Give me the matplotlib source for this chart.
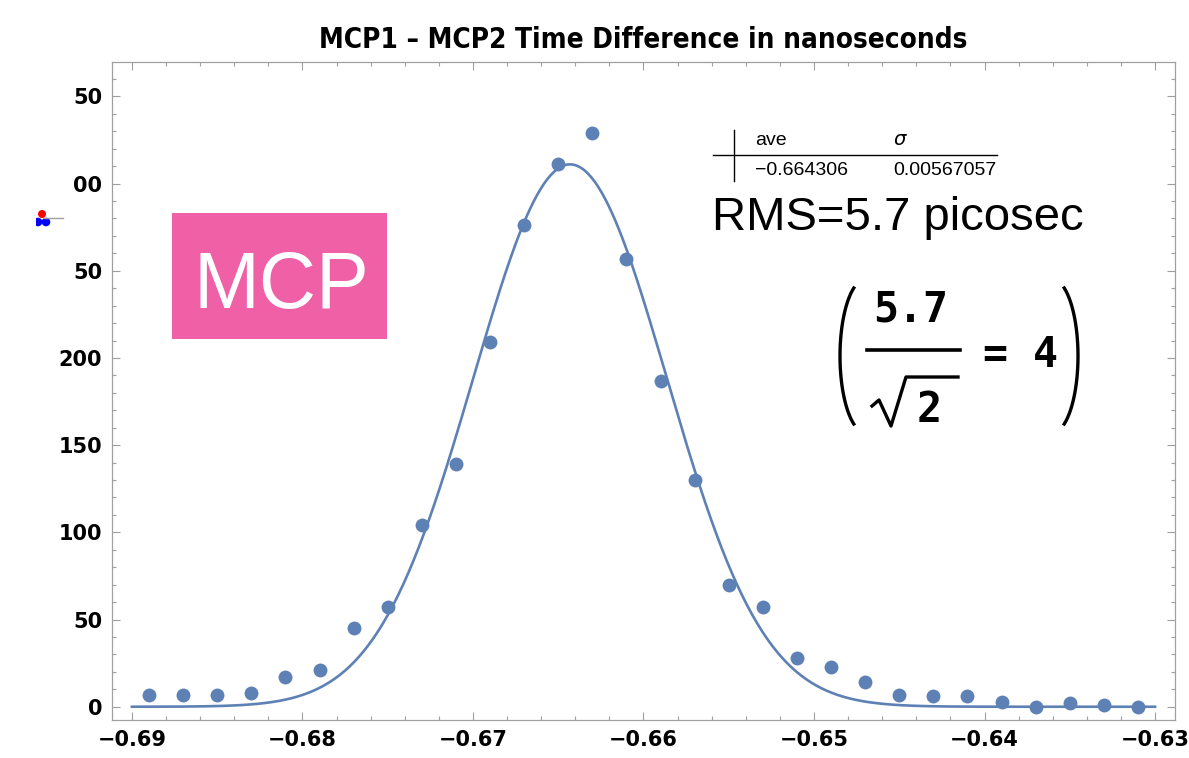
import numpy as np
import matplotlib.pyplot as plt
from matplotlib.lines import Line2D
from matplotlib.patches import Rectangle, Circle

# histogram points (bin centres, counts)
bin_centers = [-0.689, -0.687, -0.685, -0.683, -0.681, -0.679, -0.677, -0.675,
               -0.673, -0.671, -0.669, -0.667, -0.665, -0.663, -0.661, -0.659,
               -0.657, -0.655, -0.653, -0.651, -0.649, -0.647, -0.645, -0.643,
               -0.641, -0.639, -0.637, -0.635, -0.633, -0.631]
counts = [7, 7, 7, 8, 17, 21, 45, 57, 104, 139, 209, 276, 311, 329, 257, 187,
          130, 70, 57, 28, 23, 14, 7, 6, 6, 3, 0, 2, 1, 0]

# gaussian fit parameters (from the table in the chart)
fit_ave = -0.664306
fit_sigma = 0.00567057
fit_amp = 311
fit_range = [-0.69, -0.63]

x_ticks = [-0.69, -0.68, -0.67, -0.66, -0.65, -0.64, -0.63]
x_labels = ['\u22120.69', '\u22120.68', '\u22120.67', '\u22120.66', '\u22120.65', '\u22120.64', '\u22120.63']
y_ticks = [0, 50, 100, 150, 200, 250, 300, 350]
y_labels = ['0', '50', '100', '150', '200', '50', '00', '50']

BLUE = '#5E81B5'
GREY = '#A0A0A0'
W, H = 1189, 758

fig = plt.figure(figsize=(W / 100, H / 100), dpi=100)
ax = fig.add_axes([112 / W, (H - 720) / H, (1175 - 112) / W, (720 - 62) / H])

xs = np.linspace(fit_range[0], fit_range[1], 600)
ax.plot(xs, fit_amp * np.exp(-0.5 * ((xs - fit_ave) / fit_sigma) ** 2),
        color=BLUE, lw=1.9, zorder=2)
ax.plot(bin_centers, counts, 'o', color=BLUE, ms=10, mec='none', zorder=3)

ax.set_xlim(-0.69117, -0.62883)
ax.set_ylim(-7.6, 369.7)
ax.set_xticks(x_ticks)
ax.set_xticklabels(x_labels)
ax.set_xticks(np.arange(-0.69, -0.6299, 0.002), minor=True)
ax.set_yticks(y_ticks)
ax.set_yticklabels(y_labels)
ax.set_yticks(np.arange(0, 370, 10), minor=True)
ax.tick_params(which='both', direction='in', top=True, right=True, color=GREY, width=0.8)
ax.tick_params(which='major', length=5.5, pad=7)
ax.tick_params(which='minor', length=3)
for lab in ax.get_xticklabels() + ax.get_yticklabels():
    lab.set_fontfamily('DejaVu Sans')
    lab.set_fontweight('bold')
    lab.set_fontsize(15)
for s in ax.spines.values():
    s.set_color(GREY)
    s.set_linewidth(0.9)

# overlay in pixel coordinates for the annotations
ov = fig.add_axes([0, 0, 1, 1], zorder=5)
ov.set_xlim(0, W)
ov.set_ylim(H, 0)
ov.axis('off')
ov.patch.set_alpha(0)

ov.text(643, 48, 'MCP1 \u2013 MCP2 Time Difference in nanoseconds', ha='center', va='baseline',
        fontsize=20, fontweight='bold', fontfamily='DejaVu Sans', fontstretch='condensed')

# pink label
ov.add_patch(Rectangle((172, 213), 215, 126, color='#EF60A6', lw=0))
ov.text(193, 308, 'MCP', color='white', fontsize=57, fontfamily='Liberation Sans', va='baseline')

# fit table
ov.add_line(Line2D([713, 997], [155, 155], color='black', lw=1))
ov.add_line(Line2D([734, 734], [130, 181], color='black', lw=1))
tkw = dict(fontsize=14, fontfamily='Liberation Sans', va='baseline')
ov.text(755, 145, 'ave', **tkw)
ov.text(893, 145, r'$\sigma$', fontsize=14, va='baseline')
ov.text(755, 175, '\u2212' + '0.664306', **tkw)
ov.text(893, 175, '0.00567057', **tkw)

ov.text(712, 230, 'RMS=5.7 picosec', fontsize=34, fontfamily='Liberation Sans', va='baseline')

# (5.7 / sqrt(2) = 4)
t = np.radians(np.linspace(-62, 62, 60))
ov.plot(866 - 26 * np.cos(t), 356 + 68 * np.sin(t) / np.sin(np.radians(62)), color='black', lw=2.4)
ov.plot(1052 + 26 * np.cos(t), 356 + 68 * np.sin(t) / np.sin(np.radians(62)), color='black', lw=2.4)
fkw = dict(fontsize=30, fontweight='bold', fontfamily='DejaVu Sans Mono', va='baseline')
ov.text(911, 322, '5.7', ha='center', **fkw)
ov.add_line(Line2D([867, 960], [350, 350], color='black', lw=2.6))
ov.add_line(Line2D([872, 879, 891, 906, 958], [406, 400, 426, 377, 377], color='black', lw=2.4))
ov.text(929, 422, '2', ha='center', **fkw)
ov.text(983, 367, '= 4', **fkw)

# small legend glyph at left edge
ov.add_line(Line2D([44, 63], [218, 218], color=GREY, lw=1))
ov.add_patch(Circle((42, 214), 4, color='red', lw=0))
ov.add_patch(Circle((38, 222), 4.3, color='blue', lw=0))
ov.add_patch(Circle((46, 222), 4.3, color='blue', lw=0))
ov.add_patch(Rectangle((0, 200), 36, 30, color='white', lw=0))

fig.savefig('out.png', dpi=100)
